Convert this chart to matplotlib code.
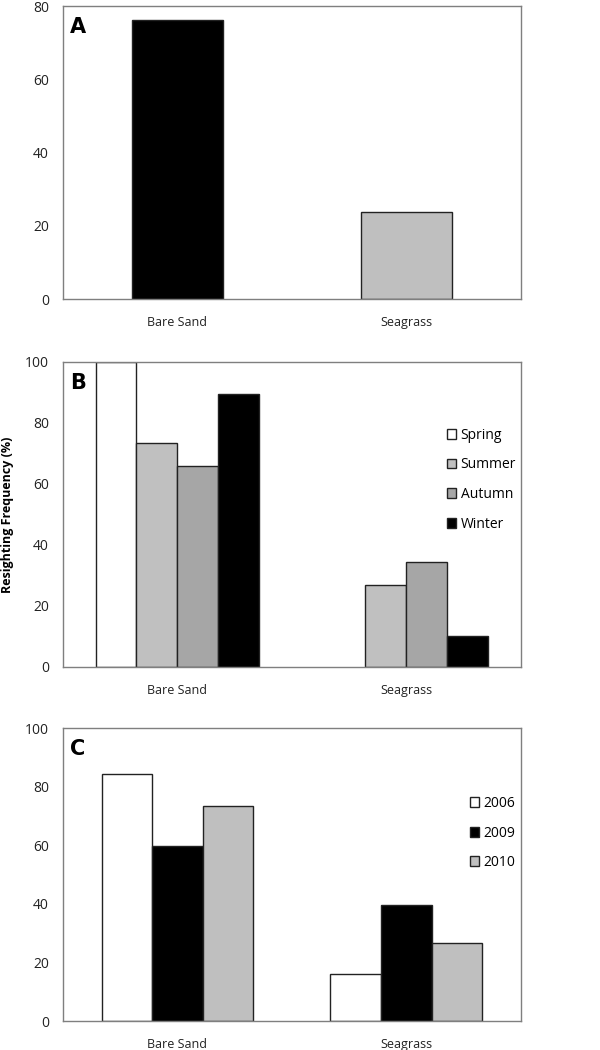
import numpy as np
import matplotlib.pyplot as plt
from matplotlib.patches import Patch

plt.rcParams['font.family'] = ['Open Sans', 'DejaVu Sans']

habitats = ['Bare Sand', 'Seagrass']

# panel A: overall
overall = [76.2, 23.8]
overall_colors = ['#000000', '#bfbfbf']

# panel B: seasons
seasons = ['Spring', 'Summer', 'Autumn', 'Winter']
season_vals = {
    'Spring': [100.0, 0.0],
    'Summer': [73.3, 26.9],
    'Autumn': [65.8, 34.5],
    'Winter': [89.5, 10.3],
}
season_colors = ['#ffffff', '#c0c0c0', '#a6a6a6', '#000000']

# panel C: years
years = ['2006', '2009', '2010']
year_vals = {
    '2006': [84.2, 15.9],
    '2009': [59.8, 39.7],
    '2010': [73.4, 26.7],
}
year_colors = ['#ffffff', '#000000', '#bfbfbf']

fig = plt.figure(figsize=(6, 10.5), dpi=100)
ax_a = fig.add_axes([0.105, 0.7152, 0.763, 0.279])
ax_b = fig.add_axes([0.105, 0.3648, 0.763, 0.2905])
ax_c = fig.add_axes([0.105, 0.0276, 0.763, 0.279])

x = np.arange(len(habitats))


def style(ax, ymax, letter):
    ax.set_xlim(-0.5, 1.5)
    ax.set_ylim(0, ymax)
    ax.set_yticks(np.arange(0, ymax + 1, 20))
    ax.set_xticks(x)
    ax.set_xticklabels(habitats)
    ax.tick_params(length=0, colors='#222222')
    ax.tick_params(axis='x', pad=12, labelsize=9)
    ax.tick_params(axis='y', pad=10, labelsize=10)
    for s in ax.spines.values():
        s.set_color('#7f7f7f')
        s.set_linewidth(1.0)
    ax.text(0.016, 0.93, letter, transform=ax.transAxes, fontsize=15,
            fontweight='bold', ha='left', va='center', family='DejaVu Sans')


def legend(ax, labels, colors, anchor):
    ax.legend(handles=[Patch(facecolor=c, edgecolor='#222222', label=l)
                       for l, c in zip(labels, colors)],
              loc='upper left', bbox_to_anchor=anchor, frameon=False,
              borderpad=0, borderaxespad=0,
              handlelength=0.7, handleheight=0.7, handletextpad=0.3,
              labelspacing=1.05, fontsize=10)


# A
ax_a.bar(x, overall, width=0.4, color=overall_colors, edgecolor='#222222', linewidth=1)
style(ax_a, 80, 'A')

# B
w = 0.179
for i, s in enumerate(seasons):
    vals = season_vals[s]
    ax_b.bar(x + (i - 1.5) * w, vals, width=w, color=season_colors[i],
             edgecolor='#222222', linewidth=[1 if v > 0 else 0 for v in vals], label=s)
style(ax_b, 100, 'B')
ax_b.set_ylabel('Resighting Frequency (%)', fontsize=9, fontweight='bold', labelpad=8)
legend(ax_b, seasons, season_colors, (0.838, 0.784))

# C
w = 0.221
for i, yr in enumerate(years):
    ax_c.bar(x + (i - 1) * w, year_vals[yr], width=w, color=year_colors[i],
             edgecolor='#222222', linewidth=1, label=yr)
style(ax_c, 100, 'C')
legend(ax_c, years, year_colors, (0.888, 0.768))

fig.savefig('out.png', dpi=100)
